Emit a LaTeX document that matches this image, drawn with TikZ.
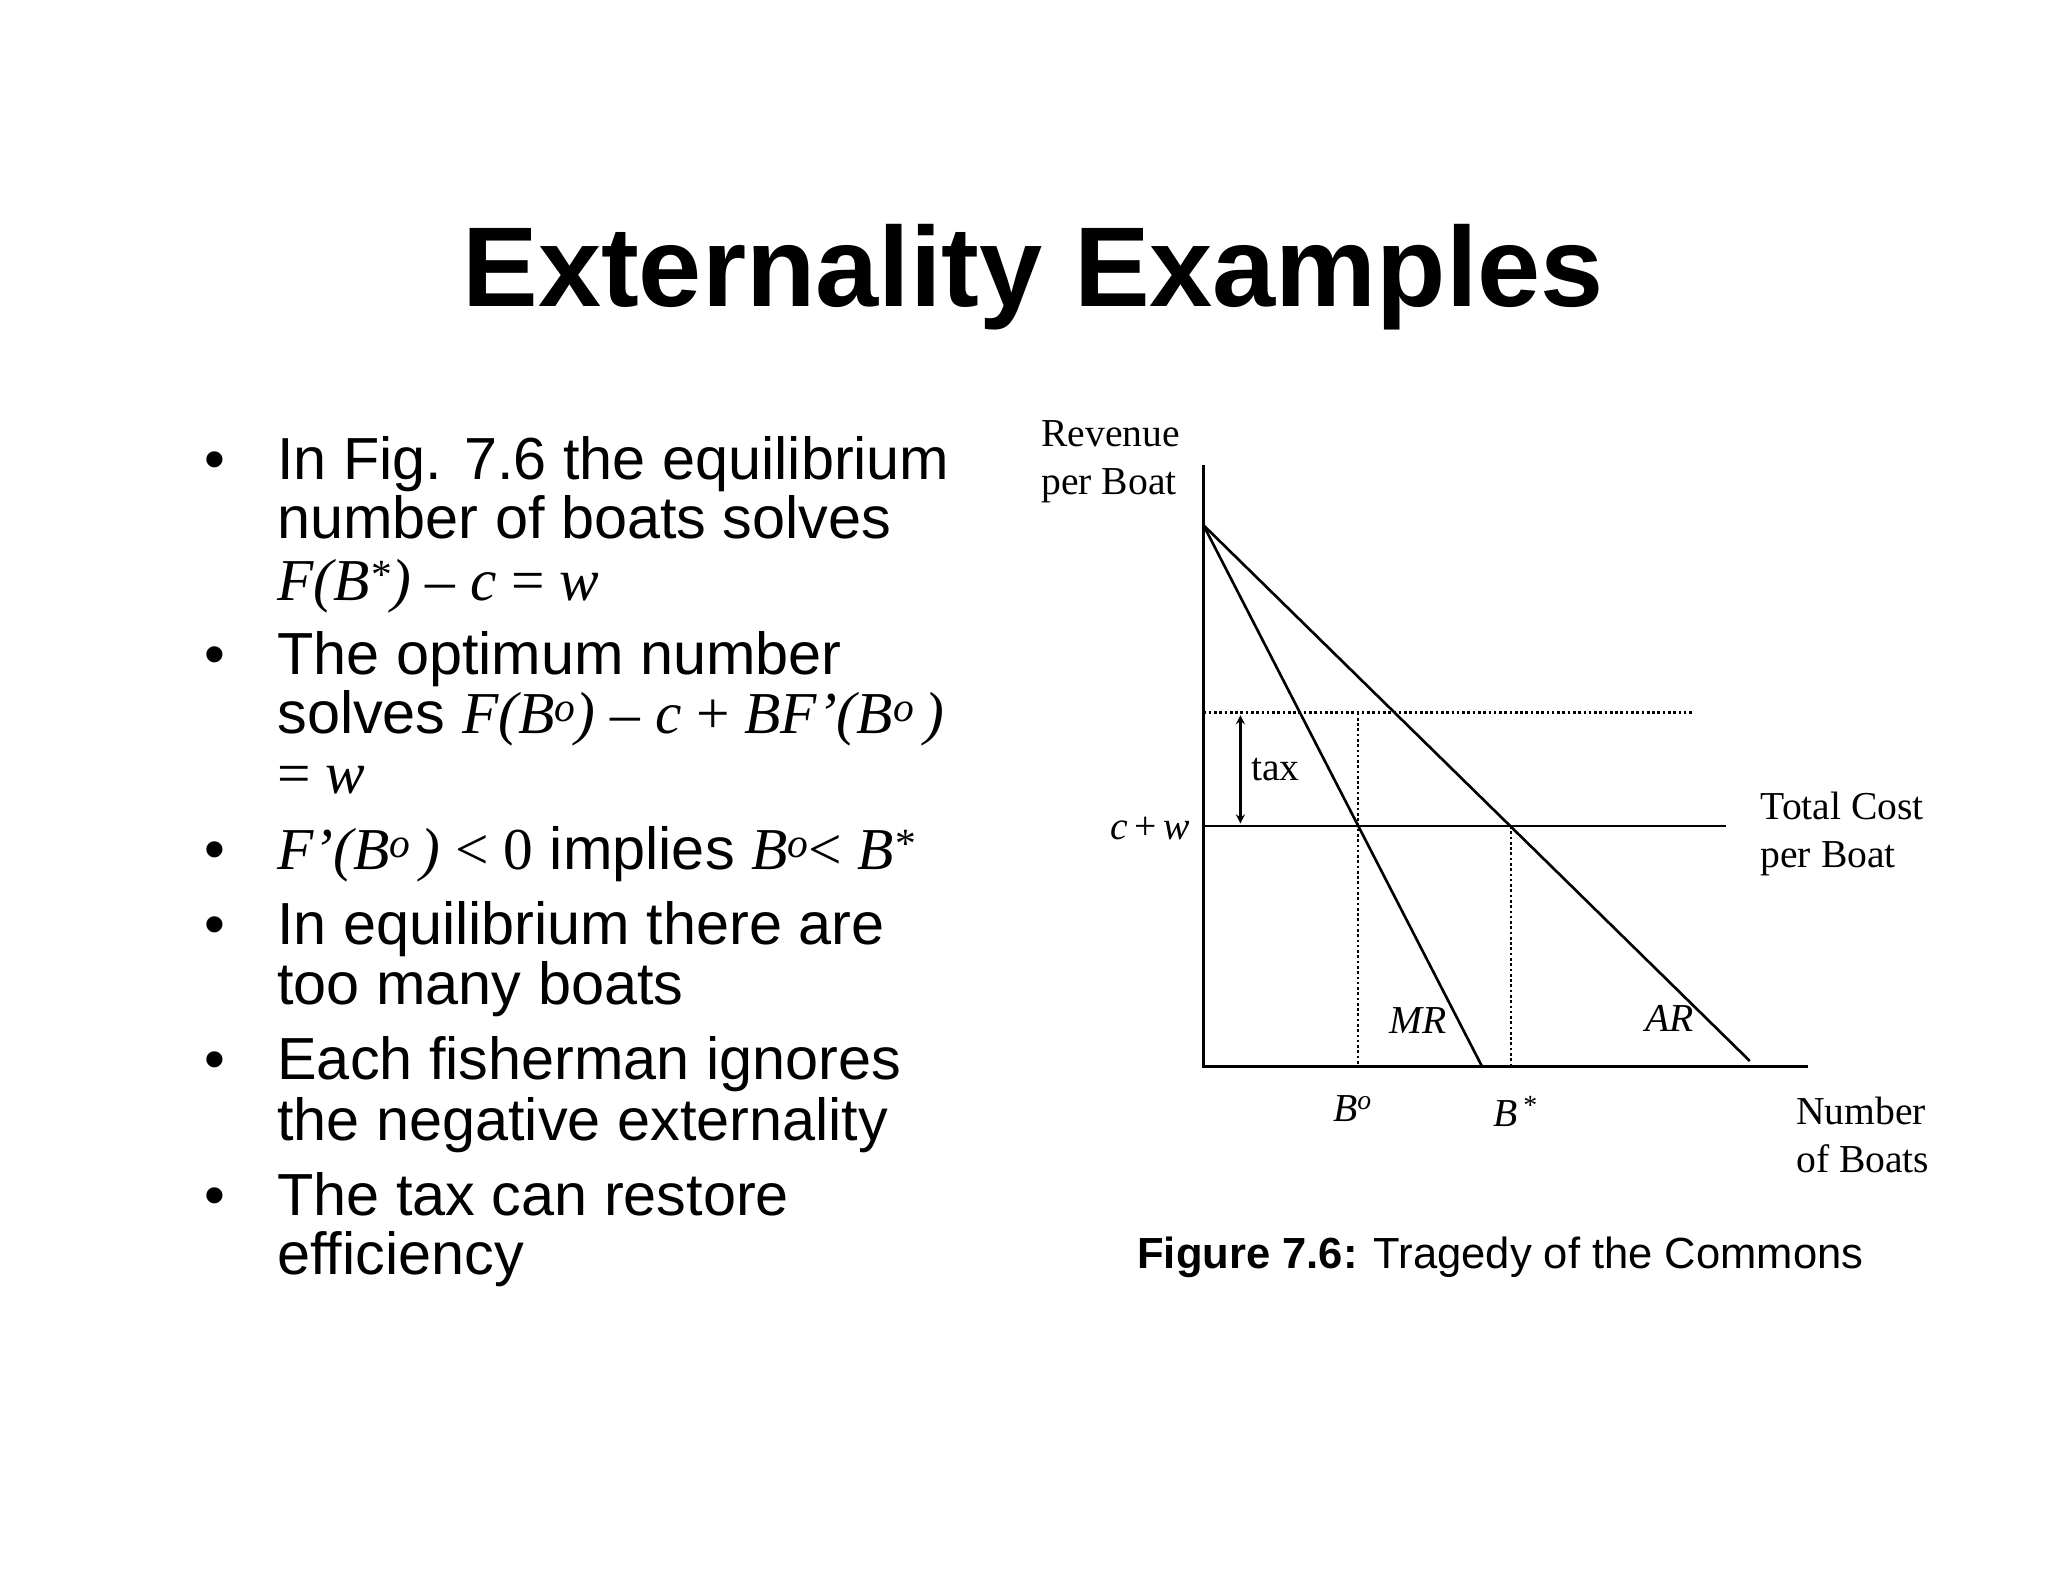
\documentclass[tikz,border=0pt]{standalone}
\usepackage{fontspec}
\setmainfont{Liberation Sans}
\newfontfamily\tms{Liberation Serif}
\begin{document}
\begin{tikzpicture}[x=1pt,y=-1pt,
  bl/.style={anchor=base west,font=\fontsize{45}{50}\selectfont,inner sep=0},
  gl/.style={font=\tms\fontsize{30}{36}\selectfont,inner sep=0},
  ax/.style={line width=2.2pt},
  ln/.style={line width=2pt},
  dt/.style={line width=2pt,dotted}]
\useasboundingbox (0,0) rectangle (1552,1199);
\node[font=\bfseries\fontsize{86}{90}\selectfont] (title) at (783,210) {Externality Examples};
% bullets
\foreach \y in {363,511,659,716,818,921}{\node[bl] at (155,\y) {•};}
\node[bl] (l1) at (210,363) {In Fig. 7.6 the equilibrium};
\node[bl] (l2) at (210,408) {number of boats solves};
\node[bl] (l3) at (210,455) {\tms\itshape F(B\textsuperscript{*})\upshape{} – \itshape c \upshape= \itshape w};
\node[bl] (l4) at (210,511) {The optimum number};
\node[bl] (l5) at (210,556) {solves {\tms\itshape F(B\textsuperscript{o}) \upshape–\itshape{} c \upshape+\itshape{} BF’(B\textsuperscript{o}\,)}};
\node[bl] (l6) at (210,601) {\tms = \itshape w};
\node[bl] (l7) at (210,659) {{\tms\itshape F’(B\textsuperscript{o}\,) \upshape< 0} implies {\tms\itshape B\textsuperscript{o}\upshape< \itshape B\textsuperscript{*}}};
\node[bl] (l8) at (210,716) {In equilibrium there are};
\node[bl] (l9) at (210,761) {too many boats};
\node[bl] (l10) at (210,818) {Each fisherman ignores};
\node[bl] (l11) at (210,864) {the negative externality};
\node[bl] (l12) at (210,921) {The tax can restore};
\node[bl] (l13) at (210,966) {efficiency};
% graph
\coordinate (O) at (912,808);
\coordinate (yt) at (912,352);
\coordinate (xe) at (1370,808);
\coordinate (top) at (912,398);
\coordinate (are) at (1326,804);
\coordinate (mre) at (1123,808);
\coordinate (cw0) at (912,626);
\coordinate (cw1) at (1308,626);
\coordinate (d0) at (912,540);
\coordinate (d1) at (1282,540);
\coordinate (bo) at (1029,808);
\coordinate (bot) at (1029,540);
\coordinate (bs) at (1145,808);
\coordinate (bst) at (1145,626);
\coordinate (t0) at (940,542);
\coordinate (t1) at (940,624);
\draw[ax] (yt) -- (O) -- (xe);
\draw[ln] (top) -- (are);
\draw[ln] (top) -- (mre);
\draw[ln] (cw0) -- (cw1);
\draw[dt] (d0) -- (d1);
\draw[dt] (bot) -- (bo);
\draw[dt] (bst) -- (bs);
\draw[ln,<->,>=stealth] (t0) -- (t1);
\node[gl,anchor=west] (tax) at (948,583) {tax};
\node[gl,anchor=east] (cw) at (902,628) {\itshape c\,\upshape+\,\itshape w};
\node[gl,anchor=west,align=left] (rev) at (789,350) {Revenue\\per Boat};
\node[gl,anchor=west,align=left] (tc) at (1334,632) {Total Cost\\per Boat};
\node[gl,anchor=west,align=left] (nb) at (1361,860) {Number\\of Boats};
\node[gl] (blo) at (1025,840) {\itshape B\textsuperscript{o}};
\node[gl] (bls) at (1148,842) {\itshape B\textsuperscript{\,*}};
\node[gl] (mr) at (1075,773) {\itshape MR};
\node[gl] (ar) at (1265,772) {\itshape AR};
\node[font=\fontsize{33}{38}\selectfont] (cap) at (1137,953) {\textbf{Figure 7.6:} Tragedy of the Commons};
\end{tikzpicture}
\end{document}
